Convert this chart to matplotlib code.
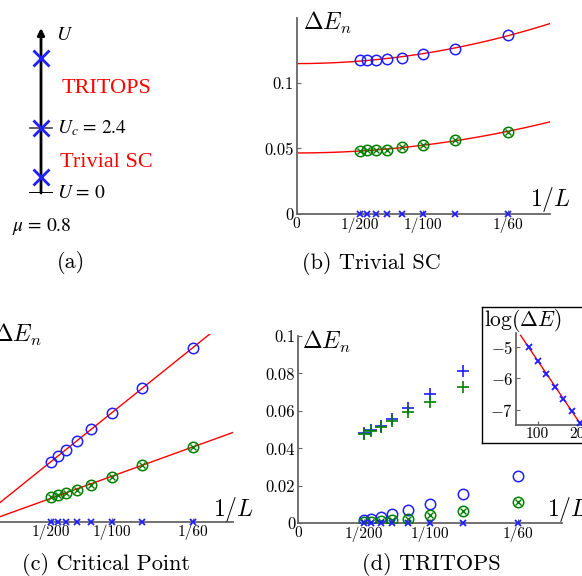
import numpy as np
import matplotlib
matplotlib.use("Agg")
import matplotlib.pyplot as plt

plt.rcParams['font.family'] = 'cmr10'
plt.rcParams['mathtext.fontset'] = 'cm'
plt.rcParams['axes.unicode_minus'] = False

W, H = 582, 576

# ─── Data ─────────────────────────────────────────────────────────────────────
L_sizes = [200, 180, 160, 140, 120, 100, 80, 60]

# (b) Trivial SC
b_first = [0.1176, 0.1173, 0.1173, 0.1181, 0.1191, 0.1216, 0.1259, 0.1362]
b_second = [0.0480, 0.0485, 0.0490, 0.0492, 0.0508, 0.0525, 0.0563, 0.0628]
b_ground = [0, 0, 0, 0, 0, 0, 0, 0]

# (c) Critical point
c_first = [0.0320, 0.0350, 0.0384, 0.0430, 0.0492, 0.0581, 0.0713, 0.0924]
c_second = [0.0133, 0.0142, 0.0151, 0.0169, 0.0197, 0.0240, 0.0302, 0.0400]
c_ground = [0, 0, 0, 0, 0, 0, 0, 0]

# (d) TRITOPS
L_plus = [200, 180, 160, 140, 120, 100, 80]
d_plus_blue = [0.0484, 0.0498, 0.0521, 0.0556, 0.0613, 0.0688, 0.0814]
d_plus_green = [0.0476, 0.0494, 0.0516, 0.0544, 0.0592, 0.0649, 0.0727]
d_first = [0.0018, 0.0023, 0.0032, 0.0048, 0.0071, 0.0103, 0.0158, 0.0252]
d_second = [0.0005, 0.0007, 0.0011, 0.0018, 0.0025, 0.0043, 0.0068, 0.0112]
d_ground = [0, 0, 0, 0, 0, 0, 0, 0]

# (d) inset: log of the ground splitting
inset_L = [80, 100, 120, 140, 160, 180, 200]
inset_log = [-5.00, -5.45, -5.86, -6.28, -6.66, -7.04, -7.40]

# (a) phase diagram points
phase_U = [0.6, 2.4, 5.0]

x_ticks = [0, 1/200, 1/100, 1/60]
x_ticklabels = ['0', '1/200', '1/100', '1/60']
y_ticks_d = [0, 0.02, 0.04, 0.06, 0.08, 0.1]
y_ticklabels_d = ['0', '0.02', '0.04', '0.06', '0.08', '0.1']

BLUE = '#1f1fff'
GREEN = '#008000'
SPINE = '#666666'

fig = plt.figure(figsize=(W/100, H/100), dpi=100)


def px_axes(left, top, right, bottom):
    return fig.add_axes([left/W, 1 - bottom/H, (right-left)/W, (bottom-top)/H])


def fig_text(x, y, s, **kw):
    fig.text(x/W, 1 - y/H, s, **kw)


def style(ax):
    for s in ['top', 'right']:
        ax.spines[s].set_visible(False)
    for s in ['left', 'bottom']:
        ax.spines[s].set_color(SPINE)
        ax.spines[s].set_linewidth(1.3)
    ax.tick_params(direction='in', length=3, color=SPINE, width=0.8,
                   pad=2)
    ax.patch.set_alpha(0)


def draw_levels(ax, first, second, ground):
    x = 1/np.array(L_sizes, dtype=float)
    ax.plot(x, first, 'o', mfc='none', mec=BLUE, ms=7.5, mew=1.1, zorder=4)
    ax.plot(x, second, 'o', mfc='none', mec=GREEN, ms=7.5, mew=1.1, zorder=4)
    ax.plot(x, second, 'x', color=GREEN, ms=4.5, mew=1.0, zorder=4)
    ax.plot(x, ground, 'x', color=BLUE, ms=4.5, mew=1.3, zorder=5,
            clip_on=False)


# ─── (a) Phase diagram ────────────────────────────────────────────────────────
axa = px_axes(0, 28, 200, 193)
axa.set_xlim(0, 1)
axa.set_ylim(0, 6.09)
axa.axis('off')
xl = 0.205
axa.annotate('', xy=(xl, 6.09), xytext=(xl, 0),
             arrowprops=dict(arrowstyle='-|>', color='k', lw=2,
                             mutation_scale=10, shrinkA=0, shrinkB=0))
axa.plot([0.15, 0.26], [0, 0], color='k', lw=1.4)
axa.plot([0.15, 0.26], [2.4, 2.4], color='#444444', lw=1.2)
axa.plot([xl]*len(phase_U), phase_U, 'x', color=BLUE, ms=11, mew=2,
         clip_on=False, zorder=5)
axa.text(0.28, 5.83, '$U$', fontsize=14, math_fontfamily='stix',
         va='center', ha='left')
axa.text(0.285, 2.4, '$U_c$ = 2.4', fontsize=14, math_fontfamily='stix',
         va='center', ha='left', family='STIXGeneral')
axa.text(0.285, 0, '$U$ = 0', fontsize=14, math_fontfamily='stix',
         va='center', ha='left', family='STIXGeneral')
axa.text(0.06, -1.22, r'$\mu$ = 0.8', fontsize=14, math_fontfamily='stix',
         va='center', ha='left', family='STIXGeneral')
axa.text(0.31, 3.87, 'TRITOPS', color='red', fontsize=16,
         family='Liberation Serif', va='center', ha='left')
axa.text(0.30, 1.14, 'Trivial SC', color='red', fontsize=16,
         family='Liberation Serif', va='center', ha='left')
fig_text(71, 263, '(a)', fontsize=16, ha='center', va='center')

# ─── (b) Trivial SC ───────────────────────────────────────────────────────────
axb = px_axes(296.7, 18.2, 550, 214.3)
style(axb)
xf = np.linspace(0, 0.02, 200)
xb = 1/np.array(L_sizes, dtype=float)
for vals in (b_first, b_second):
    p = np.polyfit(xb**2, vals, 1)
    axb.plot(xf, np.polyval(p, xf**2), color='red', lw=1, zorder=2)
draw_levels(axb, b_first, b_second, b_ground)
axb.set_xlim(0, 0.02)
axb.set_ylim(0, 0.149)
axb.set_xticks(x_ticks)
axb.set_xticklabels(x_ticklabels, fontsize=11)
axb.set_yticks([0, 0.05, 0.1])
axb.set_yticklabels(['0', '0.05', '0.1'], fontsize=12)
fig_text(303, 23, r'$\Delta E_n$', fontsize=17, ha='left', va='center')
fig_text(530, 200, r'$1/L$', fontsize=17, ha='left', va='center')
fig_text(371, 264, '(b) Trivial SC', fontsize=16, ha='center', va='center')

# ─── (c) Critical Point ───────────────────────────────────────────────────────
axc = px_axes(-9.7, 334, 233, 521.7)
style(axc)
for vals in (c_first, c_second):
    p = np.polyfit(xb, vals, 1)
    axc.plot(xf, np.polyval(p, xf), color='red', lw=1, zorder=2)
draw_levels(axc, c_first, c_second, c_ground)
axc.set_xlim(0, 0.02)
axc.set_ylim(0, 0.1)
axc.set_xticks(x_ticks)
# the "0" and the y labels of this panel fall outside the cropped picture
axc.set_xticklabels([''] + x_ticklabels[1:], fontsize=11)
axc.set_yticks(y_ticks_d)
axc.set_yticklabels([''] * len(y_ticks_d))
fig_text(-7, 335, r'$\Delta E_n$', fontsize=17, ha='left', va='center')
fig_text(213, 510, r'$1/L$', fontsize=17, ha='left', va='center')
fig_text(106, 564, '(c) Critical Point', fontsize=16, ha='center',
         va='center')

# ─── (d) TRITOPS ──────────────────────────────────────────────────────────────
axd = px_axes(298, 336, 562, 523.3)
style(axd)
xp = 1/np.array(L_plus, dtype=float)
axd.plot(xp, d_plus_blue, '+', color=BLUE, ms=8, mew=1.2, zorder=4)
axd.plot(xp, d_plus_green, '+', color=GREEN, ms=8, mew=1.2, zorder=4)
draw_levels(axd, d_first, d_second, d_ground)
axd.set_xlim(0, 0.02)
axd.set_ylim(0, 0.1)
axd.set_xticks(x_ticks)
axd.set_xticklabels(x_ticklabels, fontsize=11)
axd.set_yticks(y_ticks_d)
axd.set_yticklabels(y_ticklabels_d, fontsize=12)
fig_text(302, 341.7, r'$\Delta E_n$', fontsize=17, ha='left', va='center')
fig_text(547, 510, r'$1/L$', fontsize=17, ha='left', va='center')
fig_text(431, 564, '(d) TRITOPS', fontsize=16, ha='center', va='center')

# inset frame + inset
frame = px_axes(481.7, 307.3, 640, 443.3)
frame.set_xticks([])
frame.set_yticks([])
for s in frame.spines.values():
    s.set_color('k')
    s.set_linewidth(1.0)

axi = px_axes(516.3, 333.3, 589, 425)
style(axi)
p = np.polyfit(inset_L, inset_log, 1)
Lf = np.linspace(60, 215, 100)
axi.plot(Lf, np.polyval(p, Lf), color='red', lw=1, zorder=2)
axi.plot(inset_L, inset_log, 'x', color=BLUE, ms=5, mew=1.3, zorder=4,
         clip_on=False)
axi.set_xlim(50, 220)
axi.set_ylim(-7.47, -4.58)
axi.set_xticks([100, 200])
axi.set_xticklabels(['100', '200'], fontsize=11)
axi.set_yticks([-7, -6, -5])
axi.set_yticklabels(['$-7$', '$-6$', '$-5$'], fontsize=12)
fig_text(484, 320, r'$\log(\Delta E)$', fontsize=15.5, ha='left',
         va='center')

fig.savefig("out.png", dpi=100)
